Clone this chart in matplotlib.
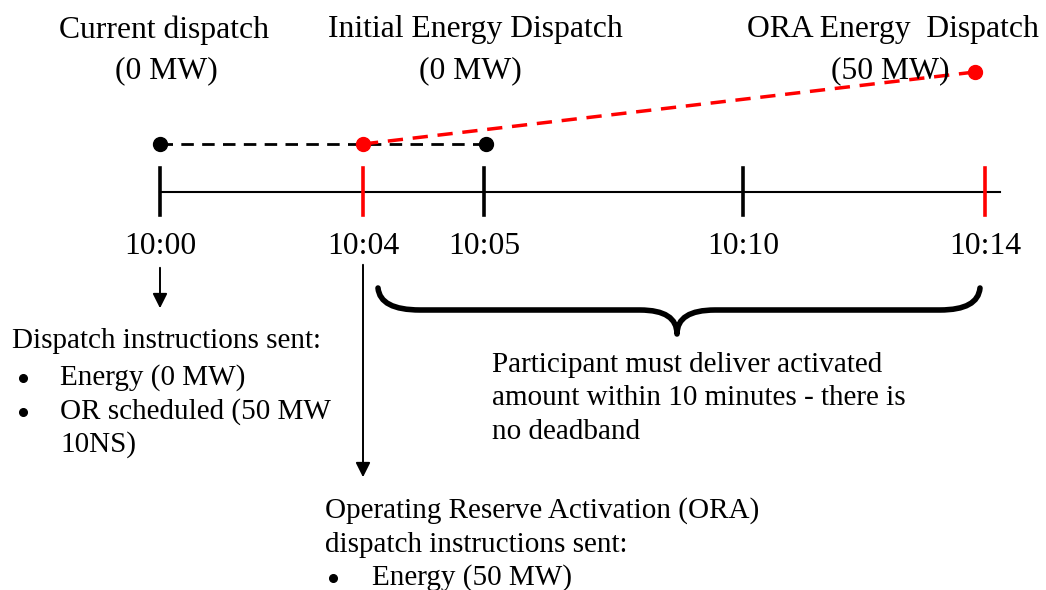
import matplotlib
matplotlib.use("Agg")
import matplotlib.pyplot as plt
from matplotlib.path import Path
from matplotlib.patches import PathPatch

plt.rcParams["font.family"] = ["Liberation Serif", "DejaVu Serif"]

# timeline ticks
tick_labels = ["10:00", "10:04", "10:05", "10:10", "10:14"]
tick_x = [160, 363, 484, 743, 985]
tick_colors = ["black", "red", "black", "black", "red"]

# dispatch points
black_x = [160, 486]
black_y = [144, 144]
red_x = [363, 975]
red_y = [144, 72]

headers = [("Current dispatch", "(0 MW)", 164, 166),
           ("Initial Energy Dispatch", "(0 MW)", 475, 470),
           ("ORA Energy  Dispatch", "(50 MW)", 893, 890)]

fs_big = 22.8
fs = 21
fig = plt.figure(figsize=(10.46, 5.9), dpi=100)
ax = fig.add_axes([0, 0, 1, 1])
ax.set_xlim(0, 1046)
ax.set_ylim(590, 0)
ax.axis("off")

# headers
for top, sub, x1, x2 in headers:
    ax.text(x1, 30, top, fontsize=fs_big, ha="center", va="center")
    ax.text(x2, 71, sub, fontsize=fs_big, ha="center", va="center")

# dashed lines and points
ax.plot(black_x, black_y, ls=(0, (4.5, 3)), color="black", lw=2)
ax.plot(red_x, red_y, ls=(0, (4.4, 2.8)), color="red", lw=2.5)
ax.plot(black_x, black_y, "o", color="black", ms=10)
ax.plot(red_x, red_y, "o", color="red", ms=10)

# timeline
ax.plot([160, 1000], [192, 192], color="black", lw=1.5)
for lbl, x, c in zip(tick_labels, tick_x, tick_colors):
    ax.plot([x, x], [168, 215], color=c, lw=2.6)
    ax.text(x, 246, lbl, fontsize=fs_big, ha="center", va="center")

# arrows
ax.annotate("", xy=(160, 311), xytext=(160, 265),
            arrowprops=dict(arrowstyle="-|>", color="black", lw=1.4, mutation_scale=22))
ax.annotate("", xy=(363, 480), xytext=(363, 262),
            arrowprops=dict(arrowstyle="-|>", color="black", lw=1.4, mutation_scale=22))

# brace
verts = [(378, 288), (380, 310), (420, 310), (640, 310),
         (677, 310), (677, 334), (677, 310), (715, 310),
         (940, 310), (978, 310), (980, 288)]
codes = [Path.MOVETO, Path.CURVE3, Path.CURVE3, Path.LINETO,
         Path.CURVE3, Path.CURVE3, Path.CURVE3, Path.CURVE3,
         Path.LINETO, Path.CURVE3, Path.CURVE3]
ax.add_patch(PathPatch(Path(verts, codes), fill=False, lw=4, color="black",
                       capstyle="round", joinstyle="round"))

# left text block
ax.text(12, 341, "Dispatch instructions sent:", fontsize=fs, va="center")
left_items = [("Energy (0 MW)", 378, True), ("OR scheduled (50 MW", 412, True), ("10NS)", 445, False)]
for t, y, bullet in left_items:
    if bullet:
        ax.plot(23, y, "o", color="black", ms=5.5)
    ax.text(60, y, t, fontsize=fs, va="center")

# participant text
for t, y in [("Participant must deliver activated", 365),
             ("amount within 10 minutes - there is", 398),
             ("no deadband", 432)]:
    ax.text(492, y, t, fontsize=fs, va="center")

# ORA text
ax.text(325, 511, "Operating Reserve Activation (ORA)", fontsize=fs, va="center")
ax.text(325, 545, "dispatch instructions sent:", fontsize=fs, va="center")
ax.plot(333, 578, "o", color="black", ms=5.5)
ax.text(372, 578, "Energy (50 MW)", fontsize=fs, va="center")

fig.savefig("out.png", dpi=100)
